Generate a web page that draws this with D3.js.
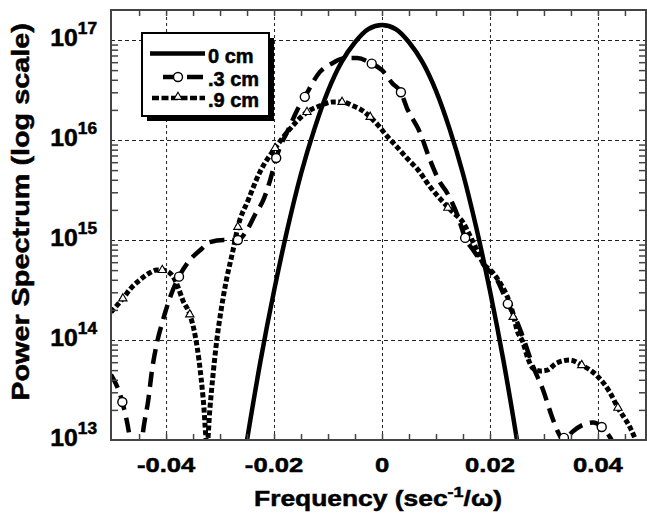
<!DOCTYPE html>
<html>
<head>
<meta charset="utf-8">
<script src="https://cdn.jsdelivr.net/npm/d3@7/dist/d3.min.js"></script>
<style>
  body { margin: 0; background: #fff; }
  svg text { font-family: "Liberation Sans", Arial, sans-serif; font-weight: bold; fill: #000; stroke: #000; stroke-width: 0.5px; }
</style>
</head>
<body>
<svg id="chart" width="647" height="515"></svg>
<script>
// --- data ---
const freq0 = [-0.026, -0.025, -0.0225, -0.02, -0.0175, -0.015, -0.0125, -0.01, -0.0075, -0.005, -0.0025, 0,
  0.0025, 0.005, 0.0075, 0.01, 0.0125, 0.015, 0.0175, 0.02, 0.0225, 0.025, 0.026];
const pow0 = [4.6e12, 1.0e13, 6.2e13, 3.1e14, 1.3e15, 4.6e15, 1.3e16, 3.1e16, 6.0e16, 9.5e16, 1.29e17, 1.41e17,
  1.29e17, 9.5e16, 6.0e16, 3.1e16, 1.3e16, 4.6e15, 1.3e15, 3.1e14, 6.2e13, 1.0e13, 4.6e12];

const freq03 = [-0.0502, -0.0481, -0.0470, -0.0465, -0.0456, -0.0446, -0.0441, -0.0433, -0.0426, -0.0417, -0.0407,
  -0.0387, -0.0376, -0.0356, -0.0337, -0.0319, -0.0293, -0.0267, -0.0250, -0.0235, -0.0220, -0.0207, -0.0196,
  -0.0170, -0.0157, -0.0143, -0.0115, -0.0091, -0.0069, -0.0046, -0.0019, 0, 0.0019, 0.0035, 0.0046, 0.0070,
  0.0089, 0.0107, 0.0120, 0.0141, 0.0154, 0.0169, 0.0191, 0.0213, 0.0233, 0.0246, 0.0261, 0.0280, 0.0298,
  0.0315, 0.0326, 0.0337, 0.0352, 0.0370, 0.0391, 0.0407, 0.0422, 0.0433];
const pow03 = [4.5e13, 2.4e13, 1.3e13, 8.9e12, 5.0e12, 8.9e12, 1.4e13, 2.5e13, 5.0e13, 9.3e13, 1.5e14,
  3.2e14, 4.3e14, 6.3e14, 7.9e14, 9.5e14, 1.0e15, 1.0e15, 1.26e15, 1.8e15, 2.5e15, 4.0e15, 6.6e15,
  1.4e16, 2.0e16, 2.7e16, 4.8e16, 5.9e16, 6.6e16, 6.6e16, 5.8e16, 5.0e16, 3.7e16, 3.0e16, 2.1e16, 1.2e16,
  6.3e15, 3.8e15, 3.0e15, 1.7e15, 1.05e15, 7.9e14, 5.4e14, 4.0e14, 2.3e14, 1.7e14, 1.07e14, 5.4e13, 3.2e13,
  1.7e13, 1.2e13, 9.8e12, 1.2e13, 1.4e13, 1.5e13, 1.35e13, 1.07e13, 8.3e12];

const freq09 = [-0.0502, -0.0480, -0.0465, -0.0448, -0.0430, -0.0417, -0.0407, -0.0396, -0.0387, -0.0378, -0.0369,
  -0.0356, -0.0346, -0.0339, -0.0331, -0.0324, -0.0319, -0.0313, -0.0306, -0.0298, -0.0289, -0.0276, -0.0267,
  -0.0248, -0.0226, -0.0198, -0.0170, -0.0139, -0.0115, -0.0091, -0.0074, -0.0054, -0.0035, -0.0022, -0.0007,
  0.0009, 0.0028, 0.0046, 0.0067, 0.0089, 0.0113, 0.0131, 0.0150, 0.0163, 0.0176, 0.0187, 0.0204, 0.0219,
  0.0231, 0.0243, 0.0250, 0.0261, 0.0270, 0.0280, 0.0293, 0.0306, 0.0324, 0.0348, 0.0370, 0.0398, 0.0422,
  0.0437, 0.0459, 0.0470];
const pow09 = [1.9e14, 2.6e14, 3.3e14, 4.0e14, 4.7e14, 5.0e14, 5.0e14, 4.8e14, 4.3e14, 3.4e14, 2.5e14,
  1.8e14, 1.1e14, 6.3e13, 2.5e13, 8.9e12, 2.0e13, 4.5e13, 1.0e14, 2.0e14, 3.8e14, 7.9e14, 1.35e15,
  2.5e15, 4.8e15, 8.3e15, 1.3e16, 1.9e16, 2.2e16, 2.4e16, 2.4e16, 2.2e16, 1.95e16, 1.7e16, 1.4e16,
  1.1e16, 8.5e15, 6.6e15, 5.0e15, 3.4e15, 2.4e15, 1.9e15, 1.5e15, 1.1e15, 7.9e14, 5.9e14, 4.8e14, 3.7e14,
  2.8e14, 1.8e14, 1.26e14, 9.5e13, 6.6e13, 5.2e13, 4.9e13, 5.0e13, 5.9e13, 6.3e13, 5.6e13, 4.4e13, 3.0e13,
  2.1e13, 1.35e13, 1.0e13];

// open-symbol positions
const mark03F = [-0.0481, -0.0376, -0.0267, -0.0196, -0.0143, -0.0019, 0.0035, 0.0154, 0.0233, 0.0337, 0.0407];
const mark03P = [2.4e13, 4.3e14, 1.0e15, 6.6e15, 2.7e16, 5.8e16, 3.0e16, 1.05e15, 2.3e14, 1.05e13, 1.35e13];
const mark09F = [-0.0480, -0.0407, -0.0356, -0.0267, -0.0198, -0.0139, -0.0074, -0.0022, 0.0122, 0.0243, 0.0370, 0.0437];
const mark09P = [2.6e14, 5.0e14, 1.8e14, 1.35e15, 8.3e15, 1.9e16, 2.4e16, 1.7e16, 2.1e15, 1.7e14, 5.6e13, 2.1e13];

const seriesNames = ["0 cm", ".3 cm", ".9 cm"];
const xMajor = [-0.04, -0.02, 0, 0.02, 0.04];
const yDecades = [13, 14, 15, 16, 17];

// --- layout ---
const L = 111, R = 646, T = 10, B = 440;
const svg = d3.select("#chart");

const x = d3.scaleLinear().domain([-0.0502, 0.0489]).range([L, R]);
const y = d3.scaleLog().domain([1e13, Math.pow(10, 17.3)]).range([B, T]);

svg.append("defs").append("clipPath").attr("id", "clip")
  .append("rect").attr("x", L).attr("y", T).attr("width", R - L).attr("height", B - T);

// grid
const gridX = svg.append("g").attr("transform", `translate(0,${B})`)
  .call(d3.axisBottom(x).tickValues(xMajor).tickSize(-(B - T)).tickFormat(""));
gridX.select(".domain").remove();
gridX.selectAll("line").attr("stroke", "#222").attr("stroke-width", 1).attr("stroke-dasharray", "3,3");

const gridY = svg.append("g").attr("transform", `translate(${L},0)`)
  .call(d3.axisLeft(y).tickValues(yDecades.slice(1).map(d => Math.pow(10, d))).tickSize(-(R - L)).tickFormat(""));
gridY.select(".domain").remove();
gridY.selectAll("line").attr("stroke", "#222").attr("stroke-width", 1).attr("stroke-dasharray", "4,3");

// curves
const plot = svg.append("g").attr("clip-path", "url(#clip)");
const line = d3.line().x(d => x(d[0])).y(d => y(d[1])).curve(d3.curveMonotoneX);
const zip = (a, b) => a.map((v, i) => [v, b[i]]);

plot.append("path").datum(zip(freq09, pow09)).attr("d", line)
  .attr("fill", "none").attr("stroke", "#000").attr("stroke-width", 5).attr("stroke-dasharray", "5,2.5");
plot.append("path").datum(zip(freq03, pow03)).attr("d", line)
  .attr("fill", "none").attr("stroke", "#000").attr("stroke-width", 4.5).attr("stroke-dasharray", "15,8");
plot.append("path").datum(zip(freq0, pow0)).attr("d", line)
  .attr("fill", "none").attr("stroke", "#000").attr("stroke-width", 4.5);

const tri = d3.symbol().type(d3.symbolTriangle).size(30);
plot.selectAll(".tri").data(zip(mark09F, mark09P)).join("path").attr("class", "tri")
  .attr("d", tri).attr("transform", d => `translate(${x(d[0])},${y(d[1])})`)
  .attr("fill", "#fff").attr("stroke", "#000").attr("stroke-width", 1.1);
plot.selectAll(".circ").data(zip(mark03F, mark03P)).join("circle").attr("class", "circ")
  .attr("cx", d => x(d[0])).attr("cy", d => y(d[1])).attr("r", 4.5)
  .attr("fill", "#fff").attr("stroke", "#000").attr("stroke-width", 1.4);

// ticks (inward) on all four sides
const xMinor = d3.range(-0.045, 0.0451, 0.005);
const yMinor = [];
yDecades.forEach(d => { for (let k = 2; k <= 9; k++) { const v = k * Math.pow(10, d); if (v < Math.pow(10, 17.3)) yMinor.push(v); } });

function styleTicks(g) {
  g.select(".domain").remove();
  g.selectAll("line").attr("stroke", "#444").attr("stroke-width", 1.5);
}
svg.append("g").attr("transform", `translate(0,${B})`)
  .call(d3.axisBottom(x).tickValues(xMinor).tickSize(-6).tickFormat("")).call(styleTicks);
svg.append("g").attr("transform", `translate(0,${T})`)
  .call(d3.axisTop(x).tickValues(xMinor).tickSize(-6).tickFormat("")).call(styleTicks);
svg.append("g").attr("transform", `translate(${L},0)`)
  .call(d3.axisLeft(y).tickValues(yMinor).tickSize(-7).tickFormat("")).call(styleTicks);
svg.append("g").attr("transform", `translate(${R},0)`)
  .call(d3.axisRight(y).tickValues(yMinor).tickSize(-7).tickFormat("")).call(styleTicks);

// frame
svg.append("rect").attr("x", L).attr("y", T).attr("width", R - L).attr("height", B - T)
  .attr("fill", "none").attr("stroke", "#444").attr("stroke-width", 2);

// x tick labels
svg.selectAll(".xl").data(xMajor).join("text").attr("class", "xl")
  .attr("transform", d => `translate(${x(d)},472) scale(1.22,1)`)
  .attr("text-anchor", "middle").attr("font-size", 21)
  .text(d => d === 0 ? "0" : d3.format(".2f")(d).replace("−", "-"));

// y tick labels 10^n
const yl = svg.selectAll(".yl").data(yDecades).join("text").attr("class", "yl")
  .attr("transform", d => `translate(97,${y(Math.pow(10, d)) + 6}) scale(1.08,1)`)
  .attr("text-anchor", "end").attr("font-size", 23);
yl.append("tspan").text("10");
yl.append("tspan").attr("dy", -12).attr("font-size", 16).text(d => d);

// axis titles
const xt = svg.append("text").attr("transform", "translate(378,506) scale(1.2,1)")
  .attr("text-anchor", "middle").attr("font-size", 22);
xt.append("tspan").text("Frequency (sec");
xt.append("tspan").attr("dy", -9).attr("font-size", 15).text("-1");
xt.append("tspan").attr("dy", 9).text("/ω)");

svg.append("text").attr("transform", "translate(29,212) rotate(-90) scale(1.2,1)")
  .attr("text-anchor", "middle").attr("font-size", 24).text("Power Spectrum (log scale)");

// legend
const lg = svg.append("g");
lg.append("rect").attr("x", 147).attr("y", 38).attr("width", 127).attr("height", 83).attr("fill", "#000");
lg.append("rect").attr("x", 142).attr("y", 33).attr("width", 127).attr("height", 83)
  .attr("fill", "#fff").attr("stroke", "#000").attr("stroke-width", 2);
const rows = [53.5, 77, 98];
lg.append("line").attr("x1", 150).attr("x2", 205).attr("y1", rows[0]).attr("y2", rows[0])
  .attr("stroke", "#000").attr("stroke-width", 4.5);
lg.append("line").attr("x1", 163).attr("x2", 205).attr("y1", rows[1]).attr("y2", rows[1])
  .attr("stroke", "#000").attr("stroke-width", 4.5).attr("stroke-dasharray", "16,8");
lg.append("circle").attr("cx", 178).attr("cy", rows[1]).attr("r", 4.5)
  .attr("fill", "#fff").attr("stroke", "#000").attr("stroke-width", 1.4);
lg.append("line").attr("x1", 152).attr("x2", 205).attr("y1", rows[2]).attr("y2", rows[2])
  .attr("stroke", "#000").attr("stroke-width", 4.5).attr("stroke-dasharray", "7,2.5");
lg.append("path").attr("d", tri).attr("transform", `translate(178,${rows[2] - 1})`)
  .attr("fill", "#fff").attr("stroke", "#000").attr("stroke-width", 1.1);
lg.selectAll(".lt").data(seriesNames).join("text").attr("class", "lt")
  .attr("x", 208).attr("y", (d, i) => rows[i] + 9).attr("font-size", 20).text(d => d);
</script>
</body>
</html>
